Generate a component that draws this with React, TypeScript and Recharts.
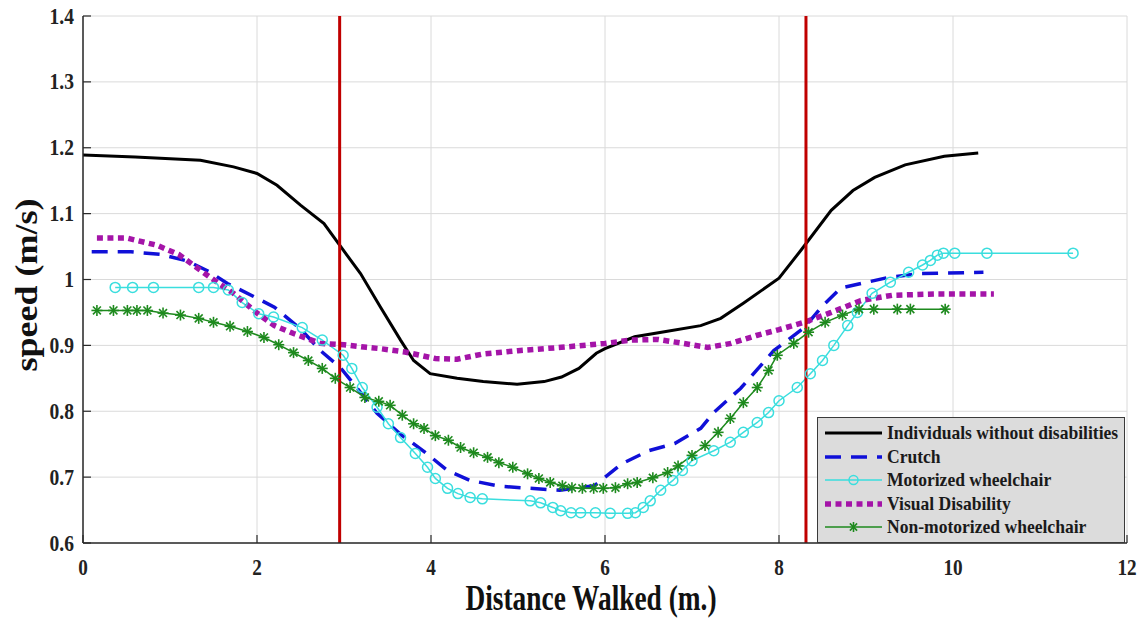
import React from 'react';
import { LineChart, Line, XAxis, YAxis, CartesianGrid, ReferenceLine } from 'recharts';

const xTicks = [0, 2, 4, 6, 8, 10, 12];
const yTicks = [0.6, 0.7, 0.8, 0.9, 1.0, 1.1, 1.2, 1.3, 1.4];
const yTickLabels = ['0.6', '0.7', '0.8', '0.9', '1', '1.1', '1.2', '1.3', '1.4'];
const boundaryLines = [2.95, 8.31];

const seriesNames = [
  'Individuals without disabilities',
  'Crutch',
  'Motorized wheelchair',
  'Visual Disability',
  'Non-motorized wheelchair',
];

const noDisX = [0, 0.6, 1.35, 1.73, 2.0, 2.23, 2.5, 2.77, 2.95, 3.19, 3.42, 3.65, 3.8, 3.99, 4.3, 4.6, 4.99, 5.3, 5.5, 5.7, 5.9, 6.0, 6.34, 6.7, 7.1, 7.33, 7.59, 8.0, 8.25, 8.6, 8.85, 9.1, 9.45, 9.9, 10.29];
const noDisY = [1.189, 1.186, 1.181, 1.171, 1.161, 1.143, 1.113, 1.085, 1.052, 1.009, 0.958, 0.908, 0.877, 0.857, 0.85, 0.845, 0.841, 0.845, 0.852, 0.865, 0.888, 0.895, 0.913, 0.921, 0.93, 0.941, 0.964, 1.002, 1.044, 1.105, 1.135, 1.155, 1.174, 1.187, 1.192];

const crutchX = [0.1, 0.55, 0.9, 1.2, 1.45, 1.66, 1.95, 2.2, 2.5, 2.73, 2.96, 3.15, 3.38, 3.65, 3.91, 4.19, 4.45, 4.8, 5.48, 5.88, 6.19, 6.5, 6.8, 7.1, 7.25, 7.56, 7.94, 8.29, 8.5, 8.71, 9.25, 9.63, 10.35];
const crutchY = [1.042, 1.042, 1.038, 1.028, 1.012, 0.994, 0.975, 0.958, 0.925, 0.892, 0.866, 0.835, 0.797, 0.765, 0.74, 0.71, 0.695, 0.686, 0.68, 0.687, 0.72, 0.74, 0.751, 0.774, 0.798, 0.835, 0.892, 0.927, 0.96, 0.987, 1.003, 1.009, 1.011];

const motorX = [0.37, 0.57, 0.81, 1.33, 1.5, 1.67, 1.83, 2.02, 2.19, 2.52, 2.75, 2.99, 3.09, 3.21, 3.38, 3.51, 3.65, 3.82, 3.96, 4.05, 4.19, 4.31, 4.45, 4.59, 5.14, 5.26, 5.4, 5.49, 5.61, 5.72, 5.89, 6.06, 6.26, 6.35, 6.44, 6.52, 6.64, 6.78, 6.89, 7.0, 7.25, 7.44, 7.59, 7.75, 7.88, 8.0, 8.21, 8.36, 8.5, 8.63, 8.79, 8.9, 9.07, 9.28, 9.49, 9.65, 9.74, 9.82, 9.89, 10.02, 10.39, 11.38];
const motorY = [0.988, 0.988, 0.988, 0.988, 0.988, 0.984, 0.965, 0.948, 0.943, 0.927, 0.908, 0.885, 0.865, 0.836, 0.806, 0.781, 0.76, 0.736, 0.715, 0.698, 0.683, 0.675, 0.669, 0.667, 0.664, 0.661, 0.654, 0.649, 0.646, 0.646, 0.646, 0.645, 0.645, 0.646, 0.654, 0.664, 0.68, 0.695, 0.71, 0.725, 0.74, 0.753, 0.768, 0.783, 0.798, 0.816, 0.836, 0.857, 0.877, 0.9, 0.93, 0.95, 0.979, 0.996, 1.011, 1.022, 1.029, 1.037, 1.04, 1.04, 1.04, 1.04];

const visualX = [0.16, 0.5, 0.85, 1.1, 1.35, 1.55, 1.73, 2.0, 2.2, 2.42, 2.73, 3.0, 3.26, 3.42, 3.7, 4.05, 4.3, 4.6, 5.0, 5.5, 6.0, 6.3, 6.61, 6.9, 7.18, 7.45, 7.74, 8.0, 8.29, 8.6, 8.94, 9.3, 9.8, 10.47];
const visualY = [1.063, 1.063, 1.052, 1.038, 1.014, 0.995, 0.979, 0.949, 0.93, 0.918, 0.903, 0.901, 0.897, 0.895, 0.89, 0.88, 0.879, 0.887, 0.892, 0.897, 0.903, 0.908, 0.909, 0.903, 0.897, 0.903, 0.915, 0.924, 0.935, 0.95, 0.968, 0.976, 0.978, 0.978];

const nonMotorX = [0.16, 0.35, 0.51, 0.62, 0.74, 0.92, 1.12, 1.33, 1.5, 1.69, 1.89, 2.08, 2.25, 2.42, 2.59, 2.75, 2.9, 3.07, 3.24, 3.4, 3.53, 3.67, 3.8, 3.92, 4.05, 4.2, 4.34, 4.49, 4.65, 4.78, 4.94, 5.11, 5.24, 5.37, 5.51, 5.62, 5.74, 5.87, 5.98, 6.12, 6.26, 6.37, 6.55, 6.72, 6.84, 7.0, 7.15, 7.3, 7.44, 7.59, 7.75, 7.88, 7.98, 8.17, 8.34, 8.53, 8.73, 8.92, 9.09, 9.36, 9.51, 9.91];
const nonMotorY = [0.953, 0.953, 0.953, 0.953, 0.953, 0.949, 0.946, 0.941, 0.935, 0.929, 0.921, 0.912, 0.901, 0.889, 0.877, 0.865, 0.85, 0.836, 0.821, 0.815, 0.809, 0.794, 0.781, 0.774, 0.763, 0.756, 0.745, 0.737, 0.73, 0.722, 0.715, 0.705, 0.698, 0.692, 0.687, 0.684, 0.683, 0.683, 0.683, 0.684, 0.69, 0.692, 0.699, 0.707, 0.717, 0.733, 0.748, 0.768, 0.789, 0.813, 0.836, 0.862, 0.885, 0.903, 0.92, 0.935, 0.946, 0.955, 0.955, 0.955, 0.955, 0.955];

const toPoints = (xs: number[], ys: number[]) => xs.map((x, i) => ({ x, y: ys[i] }));

const noDisData = toPoints(noDisX, noDisY);
const crutchData = toPoints(crutchX, crutchY);
const motorData = toPoints(motorX, motorY);
const visualData = toPoints(visualX, visualY);
const nonMotorData = toPoints(nonMotorX, nonMotorY);

const COLORS = {
  black: '#000000',
  blue: '#1010d8',
  cyan: '#3adede',
  magenta: '#a414a8',
  green: '#1e8a1e',
  red: '#c00000',
};

const FONT = "'Liberation Serif', 'Times New Roman', Times, serif";

const StarDot = (props: any) => {
  const { cx, cy, index } = props;
  if (cx == null || cy == null) return <g key={`s-${index}`} />;
  const r = 5.5;
  const d = r * 0.72;
  return (
    <g key={`s-${index}`} stroke={COLORS.green} strokeWidth={1.6}>
      <line x1={cx - r} y1={cy} x2={cx + r} y2={cy} />
      <line x1={cx} y1={cy - r} x2={cx} y2={cy + r} />
      <line x1={cx - d} y1={cy - d} x2={cx + d} y2={cy + d} />
      <line x1={cx - d} y1={cy + d} x2={cx + d} y2={cy - d} />
    </g>
  );
};

const CircleDot = (props: any) => {
  const { cx, cy, index } = props;
  if (cx == null || cy == null) return <g key={`c-${index}`} />;
  return <circle key={`c-${index}`} cx={cx} cy={cy} r={5} fill="none" stroke={COLORS.cyan} strokeWidth={1.5} />;
};

const XTick = (props: any) => {
  const { x, y, payload } = props;
  return (
    <g transform={`translate(${x},${y + 24})`}>
      <text transform="scale(0.8,1)" textAnchor="middle" style={{ fontFamily: FONT, fontWeight: 700, fontSize: 24 }} fill="#222">
        {String(payload.value)}
      </text>
    </g>
  );
};

const YTick = (props: any) => {
  const { x, y, payload } = props;
  const idx = yTicks.findIndex((t) => Math.abs(t - payload.value) < 1e-6);
  const label = idx >= 0 ? yTickLabels[idx] : String(payload.value);
  return (
    <g transform={`translate(${x},${y + 7.5})`}>
      <text transform="scale(0.85,1)" textAnchor="end" style={{ fontFamily: FONT, fontWeight: 700, fontSize: 23 }} fill="#222">
        {label}
      </text>
    </g>
  );
};

const EmptyTick = () => <g />;

const LegendSample = ({ kind }: { kind: number }) => {
  const w = 57;
  const h = 12;
  const mid = h / 2;
  if (kind === 0) return <svg width={w} height={h}><line x1={0} y1={mid} x2={w} y2={mid} stroke={COLORS.black} strokeWidth={3} /></svg>;
  if (kind === 1) return <svg width={w} height={h}><line x1={0} y1={mid} x2={w} y2={mid} stroke={COLORS.blue} strokeWidth={3.5} strokeDasharray="16 10" /></svg>;
  if (kind === 2) return (
    <svg width={w} height={h}>
      <line x1={0} y1={mid} x2={w} y2={mid} stroke={COLORS.cyan} strokeWidth={1.5} />
      <circle cx={w / 2} cy={mid} r={4.5} fill="none" stroke={COLORS.cyan} strokeWidth={1.5} />
    </svg>
  );
  if (kind === 3) return <svg width={w} height={h}><line x1={0} y1={mid} x2={w} y2={mid} stroke={COLORS.magenta} strokeWidth={5.5} strokeDasharray="6 4.5" /></svg>;
  const cx = w / 2;
  const r = 5;
  const d = r * 0.72;
  return (
    <svg width={w} height={h}>
      <line x1={0} y1={mid} x2={w} y2={mid} stroke={COLORS.green} strokeWidth={1.5} />
      <g stroke={COLORS.green} strokeWidth={1.6}>
        <line x1={cx} y1={mid - r} x2={cx} y2={mid + r} />
        <line x1={cx - d} y1={mid - d} x2={cx + d} y2={mid + d} />
        <line x1={cx - d} y1={mid + d} x2={cx + d} y2={mid - d} />
      </g>
    </svg>
  );
};

const LegendBox = () => (
  <div
    style={{
      position: 'absolute',
      left: 817,
      top: 417,
      width: 306,
      height: 124,
      background: '#dcdcdc',
      border: '1.5px solid #3a3a3a',
      boxSizing: 'content-box',
    }}
  >
    {seriesNames.map((name, i) => (
      <div
        key={name}
        style={{
          position: 'absolute',
          left: 7,
          top: 4 + i * 23.6,
          height: 22,
          display: 'flex',
          alignItems: 'center',
          whiteSpace: 'nowrap',
        }}
      >
        <LegendSample kind={i} />
        <span
          style={{
            display: 'inline-block',
            marginLeft: 5,
            fontFamily: FONT,
            fontWeight: 700,
            fontSize: 19.5,
            lineHeight: '22px',
            color: '#1a1a1a',
            transform: 'scaleX(0.9)',
            transformOrigin: 'left center',
          }}
        >
          {name}
        </span>
      </div>
    ))}
  </div>
);

export default function App() {
  return (
    <div style={{ position: 'absolute', left: 0, top: 0, width: 1143, height: 627, background: '#fff' }}>
      <LineChart width={1143} height={627} margin={{ top: 16, right: 16, left: 0, bottom: 0 }}>
        <CartesianGrid stroke="#dadada" strokeWidth={1} horizontal vertical />
        <XAxis
          dataKey="x"
          type="number"
          domain={[0, 12]}
          ticks={xTicks}
          allowDataOverflow
          height={84}
          tickSize={-8}
          tickMargin={16}
          tick={<XTick />}
          axisLine={{ stroke: '#2a2a2a', strokeWidth: 1.5 }}
          tickLine={{ stroke: '#2a2a2a', strokeWidth: 1.2 }}
        />
        <XAxis
          xAxisId="top"
          orientation="top"
          dataKey="x"
          type="number"
          domain={[0, 12]}
          ticks={xTicks}
          height={0}
          tickSize={-8}
          tick={<EmptyTick />}
          axisLine={{ stroke: '#2a2a2a', strokeWidth: 1.5 }}
          tickLine={{ stroke: '#2a2a2a', strokeWidth: 1.2 }}
        />
        <YAxis
          dataKey="y"
          type="number"
          domain={[0.6, 1.4]}
          ticks={yTicks}
          allowDataOverflow
          width={83}
          tickSize={-8}
          tickMargin={17}
          tick={<YTick />}
          axisLine={{ stroke: '#2a2a2a', strokeWidth: 1.5 }}
          tickLine={{ stroke: '#2a2a2a', strokeWidth: 1.2 }}
        />
        <YAxis
          yAxisId="right"
          orientation="right"
          dataKey="y"
          type="number"
          domain={[0.6, 1.4]}
          ticks={yTicks}
          width={0}
          tickSize={-8}
          tick={<EmptyTick />}
          axisLine={{ stroke: '#2a2a2a', strokeWidth: 1.5 }}
          tickLine={{ stroke: '#2a2a2a', strokeWidth: 1.2 }}
        />
        <Line data={noDisData} dataKey="y" name={seriesNames[0]} type="linear" stroke={COLORS.black} strokeWidth={3} dot={false} activeDot={false} isAnimationActive={false} />
        <Line data={crutchData} dataKey="y" name={seriesNames[1]} type="linear" stroke={COLORS.blue} strokeWidth={3.5} strokeDasharray="16 10" dot={false} activeDot={false} isAnimationActive={false} />
        <Line data={motorData} dataKey="y" name={seriesNames[2]} type="linear" stroke={COLORS.cyan} strokeWidth={1.5} dot={CircleDot} activeDot={false} isAnimationActive={false} />
        <Line data={visualData} dataKey="y" name={seriesNames[3]} type="linear" stroke={COLORS.magenta} strokeWidth={5.5} strokeDasharray="6 4.5" dot={false} activeDot={false} isAnimationActive={false} />
        <Line data={nonMotorData} dataKey="y" name={seriesNames[4]} type="linear" stroke={COLORS.green} strokeWidth={1.5} dot={StarDot} activeDot={false} isAnimationActive={false} />
        {boundaryLines.map((v) => (
          <ReferenceLine key={v} x={v} stroke={COLORS.red} strokeWidth={3} ifOverflow="extendDomain" />
        ))}
      </LineChart>
      <LegendBox />
      <div
        style={{
          position: 'absolute',
          left: 591,
          top: 598,
          transform: 'translate(-50%, -50%) scaleX(0.76)',
          fontFamily: FONT,
          fontWeight: 700,
          fontSize: 36,
          lineHeight: '26px',
          whiteSpace: 'nowrap',
          color: '#111',
        }}
      >
        Distance Walked (m.)
      </div>
      <div
        style={{
          position: 'absolute',
          left: 27,
          top: 285,
          transform: 'translate(-50%, -50%) rotate(-90deg) scale(1, 0.85)',
          fontFamily: FONT,
          fontWeight: 700,
          fontSize: 36,
          lineHeight: '40px',
          whiteSpace: 'nowrap',
          color: '#111',
        }}
      >
        speed (m/s)
      </div>
    </div>
  );
}
